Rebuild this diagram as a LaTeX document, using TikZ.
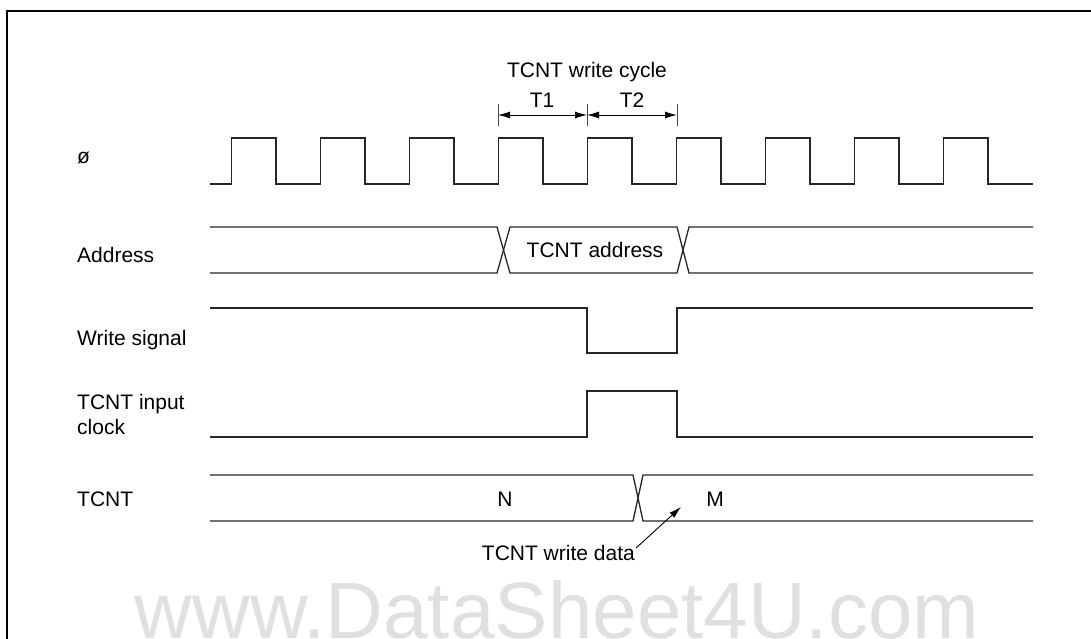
\documentclass[tikz,border=0pt]{standalone}
\usepackage{fontspec}
\setmainfont{Liberation Sans}
\usetikzlibrary{arrows.meta}
\begin{document}
\begin{tikzpicture}[x=1pt,y=-1pt,
  sig/.style={line width=1.3pt, draw=black!85, line join=miter},
  lbl/.style={font=\fontsize{21}{25}\selectfont, inner sep=0pt, anchor=base west},
  txt/.style={font=\fontsize{21}{25}\selectfont, inner sep=0pt, anchor=base},
  dimline/.style={line width=0.9pt, {Latex[length=12pt,width=7pt]}-{Latex[length=12pt,width=7pt]}},
  tick/.style={line width=0.9pt, draw=black!70},
  pointer/.style={line width=0.9pt, -{Latex[length=12pt,width=7pt]}},
]
\useasboundingbox (0,0) rectangle (1091,639);
\clip (0,0) rectangle (1091,639);
% watermark
\node[font=\fontsize{80}{80}\selectfont, text=black!12, anchor=base, inner sep=0pt] (wm) at (557,638) {www.DataSheet4U.com};
% frame
\draw[line width=1.8pt] (7,639) -- (7,11) -- (1091,11);

% labels
\node[lbl] (lphi) at (77,164) {ø};
\node[lbl] (laddr) at (77,262) {Address};
\node[lbl] (lwr) at (77,345) {Write signal};
\node[lbl] (lclk1) at (77,409) {TCNT input};
\node[lbl] (lclk2) at (77,434) {clock};
\node[lbl] (ltcnt) at (77,506) {TCNT};

% clock
\draw[sig] (210,184) foreach \k in {0,...,8} { -- ({231.5+89*\k},184) -- ({231.5+89*\k},138) -- ({276+89*\k},138) -- ({276+89*\k},184) } -- (1033,184);

% write cycle dimension
\coordinate (t0) at (498,115);
\coordinate (t1) at (587,115);
\coordinate (t2) at (677,115);
\draw[tick] (498,104) -- (498,126);
\draw[tick] (587,104) -- (587,126);
\draw[tick] (677,104) -- (677,126);
\draw[dimline] (t0) -- (t1);
\draw[dimline] (t1) -- (t2);
\node[txt] (T1) at (542,108) {T1};
\node[txt] (T2) at (632,108) {T2};
\node[txt] (wcyc) at (587,78) {TCNT write cycle};

% address bus
\draw[sig] (210,227) -- (497,227) -- (510,273) -- (677,273) -- (689,227) -- (1033,227);
\draw[sig] (210,273) -- (497,273) -- (510,227) -- (677,227) -- (689,273) -- (1033,273);
\node[txt] (aaddr) at (595,257) {TCNT address};

% write signal
\draw[sig] (210,308) -- (587,308) -- (587,353) -- (677,353) -- (677,308) -- (1033,308);

% TCNT input clock
\draw[sig] (210,437) -- (587,437) -- (587,391) -- (677,391) -- (677,437) -- (1033,437);

% TCNT bus
\draw[sig] (210,475) -- (633,475) -- (643,521) -- (1033,521);
\draw[sig] (210,521) -- (633,521) -- (643,475) -- (1033,475);
\node[txt] (vN) at (505,506) {N};
\node[txt] (vM) at (715,506) {M};

% write data pointer
\node[txt, anchor=base east] (wdata) at (635,560) {TCNT write data};
\coordinate (wdtail) at (636,548);
\coordinate (wdtip) at (681,507);
\draw[pointer] (wdtail) -- (wdtip);
\end{tikzpicture}
\end{document}
